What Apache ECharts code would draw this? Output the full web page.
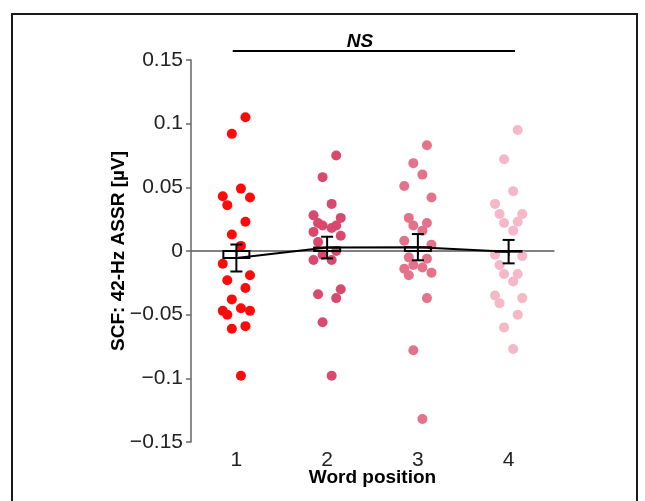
<!DOCTYPE html>
<html>
<head>
<meta charset="utf-8">
<script src="https://cdn.jsdelivr.net/npm/echarts@6/dist/echarts.min.js"></script>
<style>
  html, body { margin: 0; padding: 0; background: #fff; }
  #chart { width: 645px; height: 501px; }
</style>
</head>
<body>
<div id="chart"></div>
<script>
  // word positions (x axis)
  const positions = [1, 2, 3, 4]
  const yTicks = [-0.15, -0.1, -0.05, 0, 0.05, 0.1, 0.15]
  // individual subjects, x = jittered position, y = SCF value
  const pos1X = [1.10,0.95,1.05,0.85,1.15,0.90,1.10,0.95,1.05,0.85,1.15,0.90,1.10,0.95,0.85,0.90,1.05,1.15,0.95,1.10,1.05]
  const pos1Y = [0.105,0.092,0.049,0.043,0.042,0.036,0.023,0.013,0.004,-0.010,-0.019,-0.023,-0.029,-0.038,-0.047,-0.050,-0.045,-0.047,-0.061,-0.059,-0.098]
  const pos2X = [2.10,1.95,2.05,1.85,2.15,1.90,1.95,2.10,2.05,1.85,2.15,1.90,1.95,2.10,1.85,2.05,2.15,1.90,2.10,1.95,2.05]
  const pos2Y = [0.075,0.058,0.037,0.028,0.026,0.022,0.020,0.020,0.018,0.015,0.012,0.007,-0.003,0.000,-0.007,-0.007,-0.030,-0.034,-0.037,-0.056,-0.098]
  const pos3X = [3.10,2.95,3.05,2.85,3.15,2.90,3.10,2.95,3.05,2.85,3.15,2.90,3.10,2.95,3.05,2.85,2.90,3.15,3.10,2.95,3.05]
  const pos3Y = [0.083,0.069,0.060,0.051,0.042,0.026,0.022,0.020,0.016,0.008,0.005,-0.005,-0.006,-0.011,-0.013,-0.014,-0.019,-0.017,-0.037,-0.078,-0.132]
  const pos4X = [4.10,3.95,4.05,3.85,3.90,4.15,3.95,4.10,4.05,3.85,4.15,3.90,3.95,4.10,4.05,3.85,3.90,4.15,4.10,3.95,4.05]
  const pos4Y = [0.095,0.072,0.047,0.037,0.029,0.029,0.022,0.023,0.016,-0.003,-0.004,-0.011,-0.018,-0.018,-0.024,-0.035,-0.041,-0.037,-0.050,-0.060,-0.077]
  // group mean and SEM
  const means = [-0.0055, 0.0027, 0.0030, -0.0005]
  const sems = [0.0106, 0.0085, 0.0103, 0.0092]
  // NS bracket span
  const nsX = [0.96, 4.07]
  const nsY = 0.157

  const colors = ['#fe0a0a', '#d9496f', '#e5728b', '#f6b8c7']
  const font = "'Liberation Sans', Arial, sans-serif"
  const groupsX = [pos1X, pos2X, pos3X, pos4X]
  const groupsY = [pos1Y, pos2Y, pos3Y, pos4Y]

  const chart = echarts.init(document.getElementById('chart'))

  const dotSeries = groupsX.map((xs, g) => ({
    type: 'scatter',
    symbolSize: 10,
    itemStyle: { color: colors[g], opacity: 1 },
    z: 2,
    data: xs.map((x, i) => [x, groupsY[g][i]])
  }))

  const option = {
    backgroundColor: '#fff',
    animation: false,
    grid: { left: 191, right: 91, top: 60, bottom: 59 },
    xAxis: {
      type: 'value',
      min: 0.5,
      max: 4.5,
      name: 'Word position',
      nameLocation: 'middle',
      nameGap: 26,
      nameMoveOverlap: false,
      nameTextStyle: { fontFamily: font, fontSize: 19, fontWeight: 'bold', color: '#000' },
      splitLine: { show: false },
      axisLine: { lineStyle: { color: '#666', width: 1.5 } },
      axisTick: { show: true, length: 5, customValues: positions, lineStyle: { color: '#666', width: 1.5 } },
      axisLabel: { customValues: positions, margin: 8, fontFamily: font, fontSize: 21, color: '#222' }
    },
    yAxis: {
      type: 'value',
      min: -0.15,
      max: 0.15,
      interval: 0.05,
      name: 'SCF: 42-Hz ASSR [µV]',
      nameLocation: 'middle',
      nameGap: 63,
      nameMoveOverlap: false,
      nameRotate: 90,
      nameTextStyle: { fontFamily: font, fontSize: 19, fontWeight: 'bold', color: '#000' },
      splitLine: { show: false },
      axisLine: { show: true, lineStyle: { color: '#666', width: 1.5 } },
      axisTick: { show: true, length: 5, lineStyle: { color: '#666', width: 1.5 } },
      axisLabel: {
        margin: 8,
        fontFamily: font,
        fontSize: 21,
        color: '#222',
        formatter: v => {
          const r = Math.round(v * 100) / 100
          return String(r).replace('-', '\u2212')
        }
      }
    },
    graphic: [
      {
        type: 'rect',
        shape: { x: 12, y: 14, width: 625, height: 520 },
        style: { fill: 'none', stroke: '#1a1a1a', lineWidth: 2 },
        silent: true
      },
      {
        type: 'text',
        x: 360,
        y: 42,
        style: {
          text: 'NS',
          font: "italic bold 19px 'Liberation Sans', Arial, sans-serif",
          fill: '#000',
          textAlign: 'center',
          textVerticalAlign: 'middle'
        }
      }
    ],
    series: [
      // zero reference line
      {
        type: 'line',
        data: [[0.5, 0], [4.5, 0]],
        symbol: 'none',
        lineStyle: { color: '#777', width: 1 },
        z: 1
      },
      ...dotSeries,
      // mean bars + SEM error bars
      {
        type: 'custom',
        z: 5,
        data: positions.map((p, i) => [p, means[i], means[i] - sems[i], means[i] + sems[i]]),
        renderItem: (params, api) => {
          const x = api.value(0)
          const m = api.coord([x, api.value(1)])
          const z0 = api.coord([x, 0])
          const lo = api.coord([x, api.value(2)])
          const hi = api.coord([x, api.value(3)])
          const bw = 26, cw = 6
          const stroke = { stroke: '#000', lineWidth: 2, fill: 'none' }
          return {
            type: 'group',
            children: [
              { type: 'rect', shape: { x: m[0] - bw / 2, y: Math.min(m[1], z0[1]), width: bw, height: Math.max(Math.abs(m[1] - z0[1]), 0.5) }, style: stroke },
              { type: 'line', shape: { x1: m[0], y1: hi[1], x2: m[0], y2: lo[1] }, style: stroke },
              { type: 'line', shape: { x1: m[0] - cw, y1: hi[1], x2: m[0] + cw, y2: hi[1] }, style: stroke },
              { type: 'line', shape: { x1: m[0] - cw, y1: lo[1], x2: m[0] + cw, y2: lo[1] }, style: stroke }
            ]
          }
        }
      },
      // line through the means
      {
        type: 'line',
        data: positions.map((p, i) => [p, means[i]]),
        symbol: 'none',
        lineStyle: { color: '#000', width: 2 },
        z: 6
      },
      // NS bracket
      {
        type: 'line',
        data: nsX.map(x => [x, nsY]),
        symbol: 'none',
        clip: false,
        lineStyle: { color: '#000', width: 2 },
        z: 6
      }
    ]
  }

  chart.setOption(option)
</script>
</body>
</html>
